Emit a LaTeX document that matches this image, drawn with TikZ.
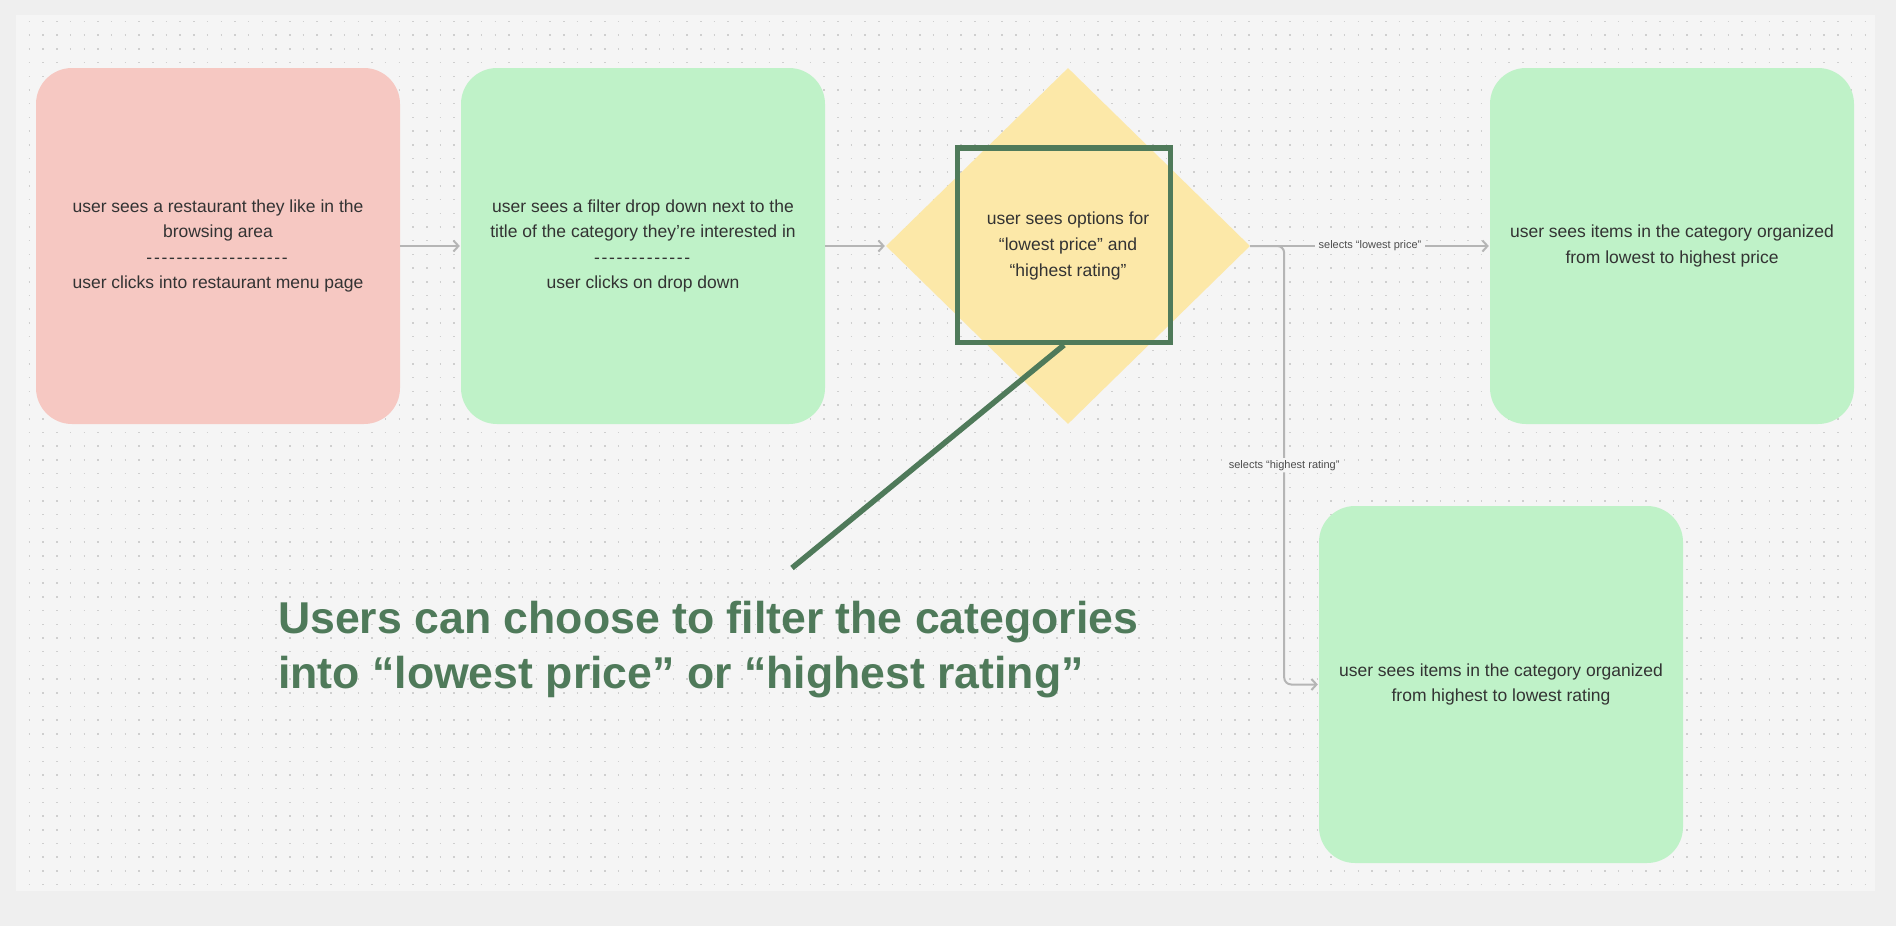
\documentclass[tikz,border=0pt]{standalone}
\usepackage{fontspec}
\setmainfont{Liberation Sans}
\usetikzlibrary{arrows.meta,positioning,shapes.geometric}
\definecolor{canvas}{HTML}{EFEFEF}
\definecolor{panel}{HTML}{F5F5F5}
\definecolor{griddot}{HTML}{CFCFCF}
\definecolor{salmon}{HTML}{F6C8C2}
\definecolor{mint}{HTML}{BFF2C8}
\definecolor{butter}{HTML}{FCE8A8}
\definecolor{fern}{HTML}{4F7A5A}
\definecolor{ink}{HTML}{333333}
\definecolor{wire}{HTML}{B5B5B5}
\newcommand\dashrow[1]{\foreach \k in {1,...,#1}{-\kern1.7pt}}

\begin{document}
\begin{tikzpicture}[x=1pt,y=-1pt,>={Straight Barb[length=5pt,width=11pt]},node distance=425pt,on grid,
  stage/.style={rectangle,rounded corners=36pt,minimum width=364pt,minimum height=356pt,inner sep=0pt,align=center,text=ink,font=\fontsize{17.5}{25.6}\selectfont},
  choice/.style={diamond,fill=butter,minimum width=364pt,minimum height=356pt,inner sep=0pt,align=center,text=ink,font=\fontsize{17.5}{25.6}\selectfont}]
  \fill[canvas] (0,0) rectangle (1896,926);
  \useasboundingbox (0,0) rectangle (1896,926);
  \fill[panel] (16,15) rectangle (1875,891);
  \foreach \r in {0,...,63}
    \draw[griddot,line width=1.5pt,dash pattern=on 1.5pt off 12.2pt] (28.7,21.5+13.7*\r) -- (1875,21.5+13.7*\r);

  \node[stage,fill=salmon] (restaurant) at (218,246) {user sees a restaurant they like in the\\browsing area\\\dashrow{19}\\user clicks into restaurant menu page};
  \node[stage,fill=mint]   (filter) [right=of restaurant] {user sees a filter drop down next to the\\title of the category they’re interested in\\\dashrow{13}\\user clicks on drop down};
  \node[choice]            (options) [right=of filter] {user sees options for\\“lowest price” and\\“highest rating”};
  \node[stage,fill=mint]   (lowprice) [right=604pt of options] {user sees items in the category organized\\from lowest to highest price};
  \node[stage,fill=mint,minimum height=357pt] (lowrate) [below right=438.5pt and 433pt of options] {user sees items in the category organized\\from highest to lowest rating};

  \tikzset{link/.style={draw=wire,line width=2pt,->,shorten >=1pt}}
  \tikzset{tag/.style={fill=panel,text=black!70,inner xsep=4pt,inner ysep=2pt,font=\fontsize{11}{13}\selectfont}}
  \path (restaurant) edge [link]                            (filter)
        (filter)     edge [link]                            (options)
        (options)    edge [link] node [tag] {selects “lowest price”} (lowprice);
  \draw[link,rounded corners=7pt] (options.east) -- ++(34,0) |- node[tag,pos=0.25] {selects “highest rating”} (lowrate.west);

  % highlight box and its callout
  \node[draw=fern,line width=5.5pt,minimum width=213pt,minimum height=194.5pt,inner sep=0pt] (focus) at (1064,245) {};
  \coordinate (tip) at (792,568);
  \draw[fern,line width=5.5pt] (focus.south) -- (tip);
  \node[anchor=north west,align=left,inner sep=0pt,text=fern,font=\bfseries\fontsize{44.6}{55}\selectfont] (note) at (278,601)
    {Users can choose to filter the categories\\into “lowest price” or “highest rating”};
\end{tikzpicture}
\end{document}
